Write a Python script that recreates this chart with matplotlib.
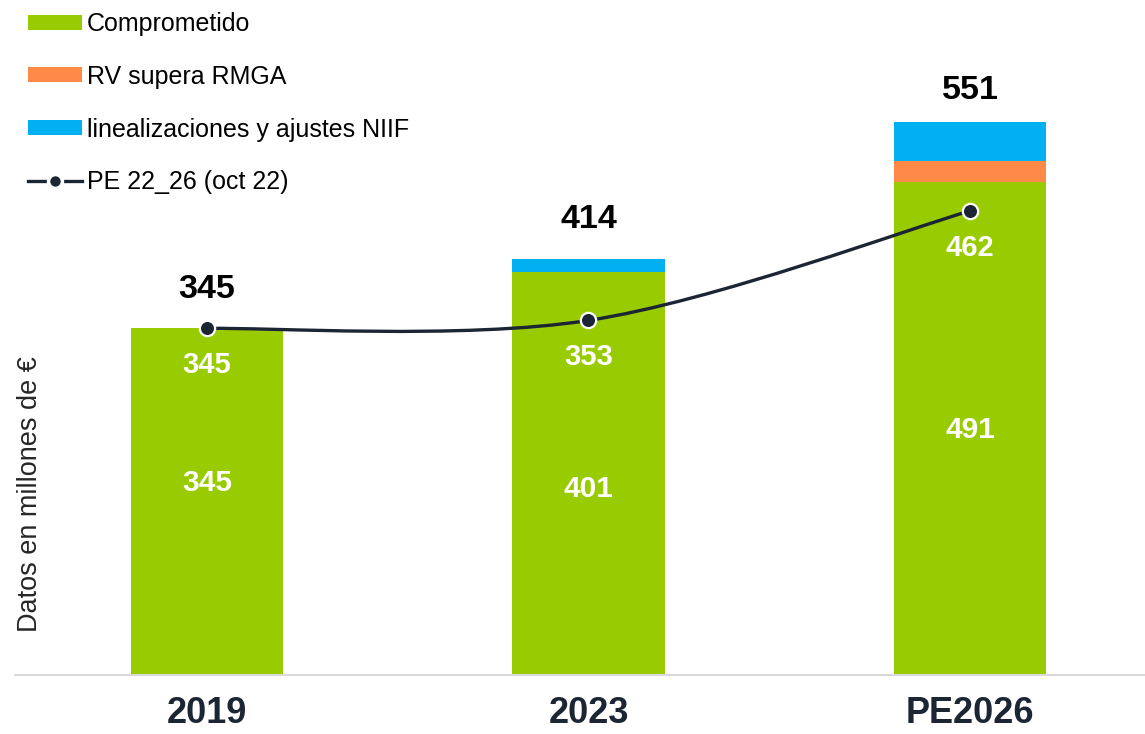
import matplotlib
matplotlib.use("Agg")
import matplotlib.pyplot as plt
import numpy as np
from matplotlib.path import Path
from matplotlib.patches import PathPatch, Patch
from matplotlib.lines import Line2D

plt.rcParams['font.family'] = ['Liberation Sans', 'DejaVu Sans']

categories = ["2019", "2023", "PE2026"]
comprometido = [345, 401, 491]
rv_supera = [0, 0, 21]
linealizaciones = [0, 13, 39]
totals = [345, 414, 551]
pe_22_26 = [345, 353, 462]

GREEN = "#99CC00"
ORANGE = "#FF8A47"
BLUE = "#00B0F0"
NAVY = "#1C2533"

fig = plt.figure(figsize=(11.45, 7.34), dpi=100)
W, H = 1145, 734
ax = fig.add_axes([15 / W, 59 / H, 1 - 15 / W, 1 - 59 / H])

x = np.arange(len(categories))
bw = 0.4
ax.bar(x, comprometido, bw, color=GREEN, zorder=2)
ax.bar(x, rv_supera, bw, bottom=comprometido, color=ORANGE, zorder=2)
bottom2 = np.array(comprometido) + np.array(rv_supera)
ax.bar(x, linealizaciones, bw, bottom=bottom2, color=BLUE, zorder=2)

# smoothed line (Excel-like bezier smoothing through the data points)
px = x.astype(float)
py = np.array(pe_22_26, dtype=float)
pts = np.column_stack([px, py])
verts = [tuple(pts[0])]
codes = [Path.MOVETO]
n = len(pts)
for i in range(n - 1):
    p_prev = pts[i - 1] if i > 0 else pts[i]
    p_next2 = pts[i + 2] if i + 2 < n else pts[i + 1]
    c1 = pts[i] + (pts[i + 1] - p_prev) / 6.0
    c2 = pts[i + 1] - (p_next2 - pts[i]) / 6.0
    verts += [tuple(c1), tuple(c2), tuple(pts[i + 1])]
    codes += [Path.CURVE4] * 3
ax.add_patch(PathPatch(Path(verts, codes), fill=False, edgecolor=NAVY, lw=2.4,
                       zorder=3, capstyle='round'))
ax.plot(px, py, linestyle='none', marker='o', markersize=11, markerfacecolor=NAVY,
        markeredgecolor='white', markeredgewidth=1.6, zorder=4)

# labels
total_off = [39, 40, 31]
for i, t in enumerate(totals):
    ax.annotate(str(t), (x[i], t), xytext=(0, total_off[i]), textcoords='offset pixels',
                ha='center', va='center', fontsize=24.5, fontweight='bold', color='black')
for i, v in enumerate(pe_22_26):
    ax.annotate(str(v), (x[i], v), xytext=(0, -37), textcoords='offset pixels',
                ha='center', va='center', fontsize=21, fontweight='bold', color='white', zorder=5)
green_off = [19, -15, -2]
for i, v in enumerate(comprometido):
    ax.annotate(str(v), (x[i], v / 2), xytext=(0, green_off[i]), textcoords='offset pixels',
                ha='center', va='center', fontsize=21.5, fontweight='bold', color='white', zorder=5)

ax.set_xlim(-0.503, 2.4587)
ax.set_ylim(0, 672)
ax.set_xticks(x)
ax.set_xticklabels(categories, fontsize=26, fontweight='bold', color=NAVY)
ax.tick_params(axis='x', length=0, pad=15)
ax.set_yticks([])
for s in ['top', 'right', 'left']:
    ax.spines[s].set_visible(False)
ax.spines['bottom'].set_color('#D9D9D9')
ax.spines['bottom'].set_linewidth(1.5)
ax.set_facecolor('none')

fig.text(30 / W, 1 - 494 / H, "Datos en millones de €", rotation=90, ha='center', va='center',
         fontsize=19.5, color='#262626')

handles = [Patch(facecolor=GREEN), Patch(facecolor=ORANGE), Patch(facecolor=BLUE),
           Line2D([0], [0], color=NAVY, lw=2.4, marker='o', markersize=10,
                  markerfacecolor=NAVY, markeredgecolor='white', markeredgewidth=2.5)]
labels = ["Comprometido", "RV supera RMGA", "linealizaciones y ajustes NIIF", "PE 22_26 (oct 22)"]
fig.legend(handles, labels, loc='upper left', bbox_to_anchor=(23 / W, 1 - 7 / H),
           frameon=False, fontsize=18, handlelength=2.15, handleheight=0.55,
           handletextpad=0.2, labelspacing=1.15, borderpad=0.2, borderaxespad=0)

fig.savefig("out.png", dpi=100)
